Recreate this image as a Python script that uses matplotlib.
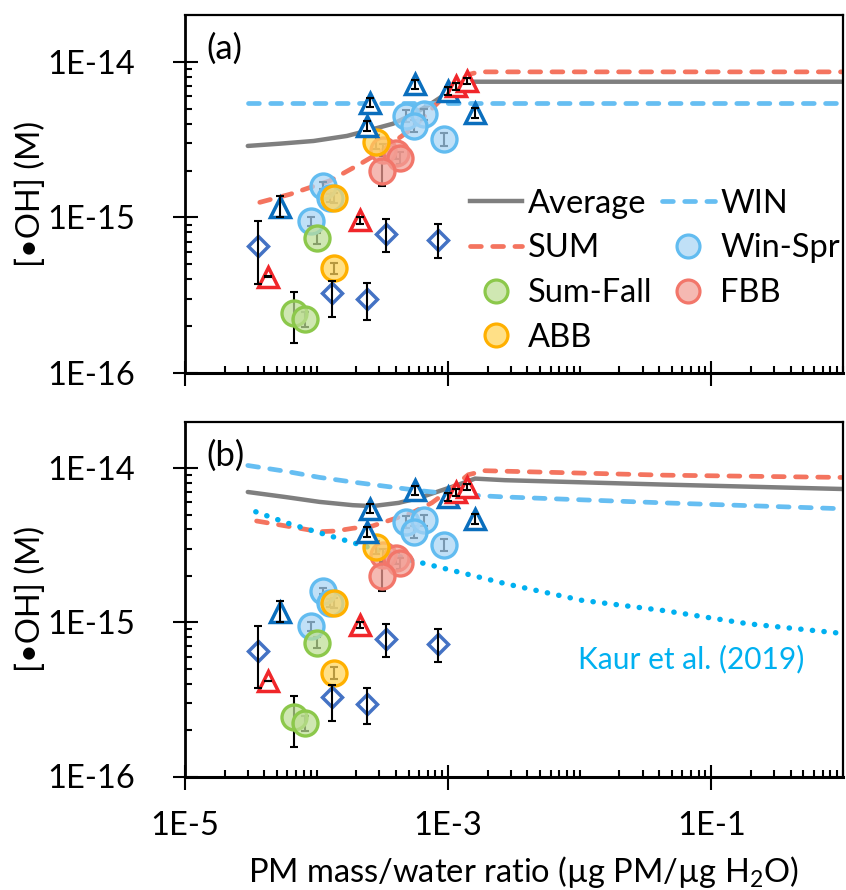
import matplotlib
matplotlib.use('Agg')
import matplotlib.pyplot as plt
from matplotlib.lines import Line2D
from matplotlib.ticker import FixedLocator, FixedFormatter, NullFormatter

plt.rcParams['font.family'] = ['Lato', 'DejaVu Sans']
plt.rcParams['mathtext.fontset'] = 'custom'
plt.rcParams['mathtext.rm'] = 'Lato'
plt.rcParams['mathtext.it'] = 'Lato:italic'
plt.rcParams['mathtext.bf'] = 'Lato:bold'

# ---------------- data ----------------
# dark-blue triangles
tri_blue_x = [5.24e-5, 2.56e-4, 2.41e-4, 5.55e-4, 1.0e-3, 1.61e-3]
tri_blue_y = [1.16e-15, 5.46e-15, 3.87e-15, 7.16e-15, 6.49e-15, 4.71e-15]
tri_blue_elo = [0.16e-15, 0.35e-15, 0.30e-15, 0.45e-15, 0.40e-15, 0.35e-15]
tri_blue_ehi = [0.22e-15, 0.40e-15, 0.30e-15, 0.45e-15, 0.40e-15, 0.35e-15]

# red triangles
tri_red_x = [1.14e-3, 1.39e-3, 2.12e-4, 4.25e-5]
tri_red_y = [6.99e-15, 7.52e-15, 0.962e-15, 4.17e-16]
tri_red_elo = [0.35e-15, 0.35e-15, 0.05e-15, 0.02e-16]
tri_red_ehi = [0.35e-15, 0.35e-15, 0.05e-15, 0.02e-16]

# diamonds
dia_x = [3.6e-5, 3.34e-4, 8.42e-4, 1.32e-4, 2.43e-4]
dia_y = [6.52e-16, 7.83e-16, 7.19e-16, 3.28e-16, 2.97e-16]
dia_lo = [3.74e-16, 5.97e-16, 5.49e-16, 2.29e-16, 2.18e-16]
dia_hi = [9.43e-16, 9.77e-16, 9.07e-16, 3.93e-16, 3.77e-16]

# Win-Spr circles
winspr_x = [4.78e-4, 6.57e-4, 5.52e-4, 9.3e-4, 1.12e-4, 1.26e-4, 9.07e-5]
winspr_y = [4.49e-15, 4.60e-15, 3.87e-15, 3.18e-15, 1.60e-15, 1.34e-15, 0.943e-15]
winspr_err = [0.4e-15, 0.4e-15, 0.35e-15, 0.3e-15, 0.08e-15, 0.08e-15, 0.06e-15]

# Sum-Fall circles
sumfall_x = [1.0e-4, 6.76e-5, 8.18e-5]
sumfall_y = [7.38e-16, 2.43e-16, 2.23e-16]
sumfall_lo = [0.6e-16, 0.87e-16, 0.25e-16]
sumfall_hi = [0.6e-16, 0.91e-16, 0.25e-16]

# FBB circles
fbb_x = [3.18e-4, 4.02e-4, 4.33e-4, 3.14e-4]
fbb_y = [2.72e-15, 2.60e-15, 2.42e-15, 1.99e-15]
fbb_lo = [0.25e-15, 0.22e-15, 0.2e-15, 0.39e-15]
fbb_hi = [0.25e-15, 0.22e-15, 0.2e-15, 0.40e-15]

# ABB circles
abb_x = [2.81e-4, 1.35e-4, 1.36e-4]
abb_y = [3.07e-15, 1.34e-15, 4.71e-16]
abb_err = [0.3e-15, 0.1e-15, 0.4e-16]

# model curves, panel (a)
avg_a_x = [3.0e-5, 5.3e-5, 9.5e-5, 1.7e-4, 2.4e-4, 3.8e-4, 5.4e-4, 7.6e-4, 1.08e-3, 1.52e-3, 1.0]
avg_a_y = [2.88e-15, 2.98e-15, 3.1e-15, 3.34e-15, 3.6e-15, 4.0e-15, 4.6e-15, 5.46e-15, 6.65e-15, 7.45e-15, 7.45e-15]
sum_a_x = [3.7e-5, 6.3e-5, 1.26e-4, 2.13e-4, 3.0e-4, 5.4e-4, 8.6e-4, 1.14e-3, 1.44e-3, 1.71e-3, 1.0]
sum_a_y = [1.25e-15, 1.41e-15, 1.72e-15, 2.2e-15, 2.61e-15, 3.77e-15, 5.6e-15, 7.16e-15, 8.3e-15, 8.62e-15, 8.62e-15]
win_a_x = [3.0e-5, 1.0]
win_a_y = [5.46e-15, 5.46e-15]

# model curves, panel (b)
avg_b_x = [3.0e-5, 5.9e-5, 1.05e-4, 1.88e-4, 2.65e-4, 4.2e-4, 6.0e-4, 8.5e-4, 1.2e-3, 1.6e-3, 2.7e-3, 4.4e-2, 1.0]
avg_b_y = [7.0e-15, 6.48e-15, 6.04e-15, 5.75e-15, 5.67e-15, 5.95e-15, 6.41e-15, 7.08e-15, 7.82e-15, 8.55e-15, 8.35e-15, 7.82e-15, 7.32e-15]
sum_b_x = [3.5e-5, 5.9e-5, 1.05e-4, 1.4e-4, 1.88e-4, 2.65e-4, 3.76e-4, 5.3e-4, 7.5e-4, 1.07e-3, 1.42e-3, 1.9e-3, 2.7e-3, 4.4e-2, 1.0]
sum_b_y = [4.54e-15, 4.21e-15, 3.87e-15, 3.91e-15, 4.07e-15, 4.21e-15, 4.65e-15, 5.13e-15, 5.95e-15, 7.43e-15, 9.06e-15, 9.62e-15, 9.55e-15, 9.0e-15, 8.7e-15]
win_b_x = [3.0e-5, 5.9e-5, 1.05e-4, 1.88e-4, 3.35e-4, 6.0e-4, 1.07e-3, 1.9e-3, 2.7e-3, 4.4e-2, 1.0]
win_b_y = [1.04e-14, 9.52e-15, 8.71e-15, 8.12e-15, 7.62e-15, 7.15e-15, 6.8e-15, 6.6e-15, 6.5e-15, 5.95e-15, 5.45e-15]
kaur_x = [3.45e-5, 5.9e-5, 1.05e-4, 1.88e-4, 3.35e-4, 5.4e-4, 2.8e-3, 1.03e-2, 4.4e-2, 0.187, 1.0]
kaur_y = [5.21e-15, 4.42e-15, 3.81e-15, 3.29e-15, 2.84e-15, 2.51e-15, 1.77e-15, 1.39e-15, 1.19e-15, 0.98e-15, 0.846e-15]

x_major = [1e-5, 1e-3, 1e-1]
x_tick_labels = ['1E-5', '1E-3', '1E-1']
y_major = [1e-16, 1e-15, 1e-14]
y_tick_labels = ['1E-16', '1E-15', '1E-14']

# ---------------- style ----------------
C_AVG = '#7F7F7F'
C_WIN = '#66BEF2'
C_SUM = '#F4745F'
C_KAUR = '#00B0F0'
C_TRI_B = '#0A6EBD'
C_TRI_R = '#F0262A'
C_DIA = '#4472C4'
WINSPR = ('#62BCF0', (0.66, 0.83, 0.96, 0.72))
SUMFALL = ('#8CC84B', (0.74, 0.87, 0.58, 0.72))
FBB = ('#F2766A', (0.95, 0.62, 0.58, 0.72))
ABB = ('#FFB000', (1.0, 0.83, 0.35, 0.72))

FS = 23.5
fig = plt.figure(figsize=(8.46, 8.90), dpi=100)
ax_a = fig.add_axes([185/846, 1-373/890, 658/846, 358/890])
ax_b = fig.add_axes([185/846, 1-776.5/890, 658/846, 354.8/890])

x_minor = [m * 10.0**k for k in range(-5, 0) for m in range(1, 10)
           if not (m == 1 and 10.0**k in x_major)] + [1.0]
y_minor = [m * 10.0**k for k in (-16, -15) for m in range(2, 10)]

DASH = (0, (2.3, 2.4))
CIRC_MS = 18
CIRC_MEW = 2.4


def circles(ax, x, y, lo, hi, colors):
    ax.errorbar(x, y, yerr=[lo, hi], fmt='none', ecolor='black', elinewidth=1.5,
                capsize=3, capthick=1.5, zorder=3)
    ax.plot(x, y, ls='none', marker='o', ms=CIRC_MS, mec=colors[0], mfc=colors[1],
            mew=CIRC_MEW, zorder=4)


def open_markers(ax, x, y, lo, hi, marker, color, ms):
    ax.plot(x, y, ls='none', marker=marker, ms=ms, mec=color, mfc='white',
            mew=2.5, zorder=5)
    ax.errorbar(x, y, yerr=[lo, hi], fmt='none', ecolor='black', elinewidth=1.5,
                capsize=3, capthick=1.5, zorder=6)


for ax in (ax_a, ax_b):
    ax.set_xscale('log')
    ax.set_yscale('log')
    circles(ax, winspr_x, winspr_y, winspr_err, winspr_err, WINSPR)
    circles(ax, sumfall_x, sumfall_y, sumfall_lo, sumfall_hi, SUMFALL)
    circles(ax, fbb_x, fbb_y, fbb_lo, fbb_hi, FBB)
    circles(ax, abb_x, abb_y, abb_err, abb_err, ABB)
    dlo = [v - l for v, l in zip(dia_y, dia_lo)]
    dhi = [h - v for v, h in zip(dia_y, dia_hi)]
    open_markers(ax, dia_x, dia_y, dlo, dhi, 'D', C_DIA, 9.8)
    open_markers(ax, tri_blue_x, tri_blue_y, tri_blue_elo, tri_blue_ehi, '^', C_TRI_B, 14)
    open_markers(ax, tri_red_x, tri_red_y, tri_red_elo, tri_red_ehi, '^', C_TRI_R, 14)

    ax.set_xlim(1e-5, 1)
    ax.set_ylim(1e-16, 2e-14)
    ax.xaxis.set_major_locator(FixedLocator(x_major))
    ax.xaxis.set_minor_locator(FixedLocator(x_minor))
    ax.yaxis.set_major_locator(FixedLocator(y_major))
    ax.yaxis.set_minor_locator(FixedLocator(y_minor))
    ax.yaxis.set_major_formatter(FixedFormatter(y_tick_labels))
    ax.xaxis.set_minor_formatter(NullFormatter())
    ax.yaxis.set_minor_formatter(NullFormatter())
    ax.tick_params(which='major', direction='inout', length=18, width=1.5,
                   labelsize=FS, colors='black')
    ax.tick_params(which='minor', direction='in', length=5, width=1.5)
    ax.tick_params(axis='y', which='major', pad=27)
    ax.tick_params(axis='x', which='major', pad=16)
    for s in ax.spines.values():
        s.set_linewidth(1.6)
    ax.spines['bottom'].set_linewidth(2.2)
    ax.spines['left'].set_linewidth(2.0)

ax_a.xaxis.set_major_formatter(NullFormatter())
ax_b.xaxis.set_major_formatter(FixedFormatter(x_tick_labels))

# curves panel (a)
ax_a.plot(avg_a_x, avg_a_y, color=C_AVG, lw=3.2, zorder=2, solid_capstyle='round')
ax_a.plot(win_a_x, win_a_y, color=C_WIN, lw=3.4, ls=DASH, dash_capstyle='round', zorder=2)
ax_a.plot(sum_a_x, sum_a_y, color=C_SUM, lw=3.4, ls=DASH, dash_capstyle='round', zorder=2)

# curves panel (b)
ax_b.plot(avg_b_x, avg_b_y, color=C_AVG, lw=3.2, zorder=2, solid_capstyle='round')
ax_b.plot(win_b_x, win_b_y, color=C_WIN, lw=3.4, ls=DASH, dash_capstyle='round', zorder=2)
ax_b.plot(sum_b_x, sum_b_y, color=C_SUM, lw=3.4, ls=DASH, dash_capstyle='round', zorder=2)
ax_b.plot(kaur_x, kaur_y, color=C_KAUR, lw=3.9, ls=(0, (0.05, 2.1)), dash_capstyle='round', zorder=2)

ax_a.text(0.033, 0.905, '(a)', transform=ax_a.transAxes, fontsize=25, va='center', ha='left')
ax_b.text(0.033, 0.905, '(b)', transform=ax_b.transAxes, fontsize=25, va='center', ha='left')
ax_b.text(0.597, 0.33, 'Kaur et al. (2019)', transform=ax_b.transAxes, fontsize=21.5,
          color=C_KAUR, va='center', ha='left')

# legend
LMS = 16.5
handles = [
    Line2D([], [], color=C_AVG, lw=3.2),
    Line2D([], [], color=C_SUM, lw=3.4, ls=DASH, dash_capstyle='round'),
    Line2D([], [], ls='none', marker='o', ms=LMS, mec=SUMFALL[0], mfc=SUMFALL[1], mew=2.3),
    Line2D([], [], ls='none', marker='o', ms=LMS, mec=ABB[0], mfc=ABB[1], mew=2.3),
    Line2D([], [], color=C_WIN, lw=3.4, ls=DASH, dash_capstyle='round'),
    Line2D([], [], ls='none', marker='o', ms=LMS, mec=WINSPR[0], mfc=WINSPR[1], mew=2.3),
    Line2D([], [], ls='none', marker='o', ms=LMS, mec=FBB[0], mfc=FBB[1], mew=2.3),
]
labels = ['Average', 'SUM', 'Sum-Fall', 'ABB', 'WIN', 'Win-Spr', 'FBB']
ax_a.legend(handles, labels, ncol=2, loc='upper left', bbox_to_anchor=(0.433, 0.515),
            frameon=False, fontsize=FS, handlelength=1.6, handletextpad=0.18,
            columnspacing=0.3, labelspacing=0.45, borderpad=0, borderaxespad=0)

# axis labels
fig.text(31/846, 1-194/890, '[•OH] (M)', rotation=90, ha='center', va='center', fontsize=FS)
fig.text(31/846, 1-599/890, '[•OH] (M)', rotation=90, ha='center', va='center', fontsize=FS)
fig.text(523/846, 1-882/890, 'PM mass/water ratio (µg PM/µg H$_\\mathregular{2}$O)',
         ha='center', va='baseline', fontsize=FS)

fig.savefig('out.png', dpi=100)
